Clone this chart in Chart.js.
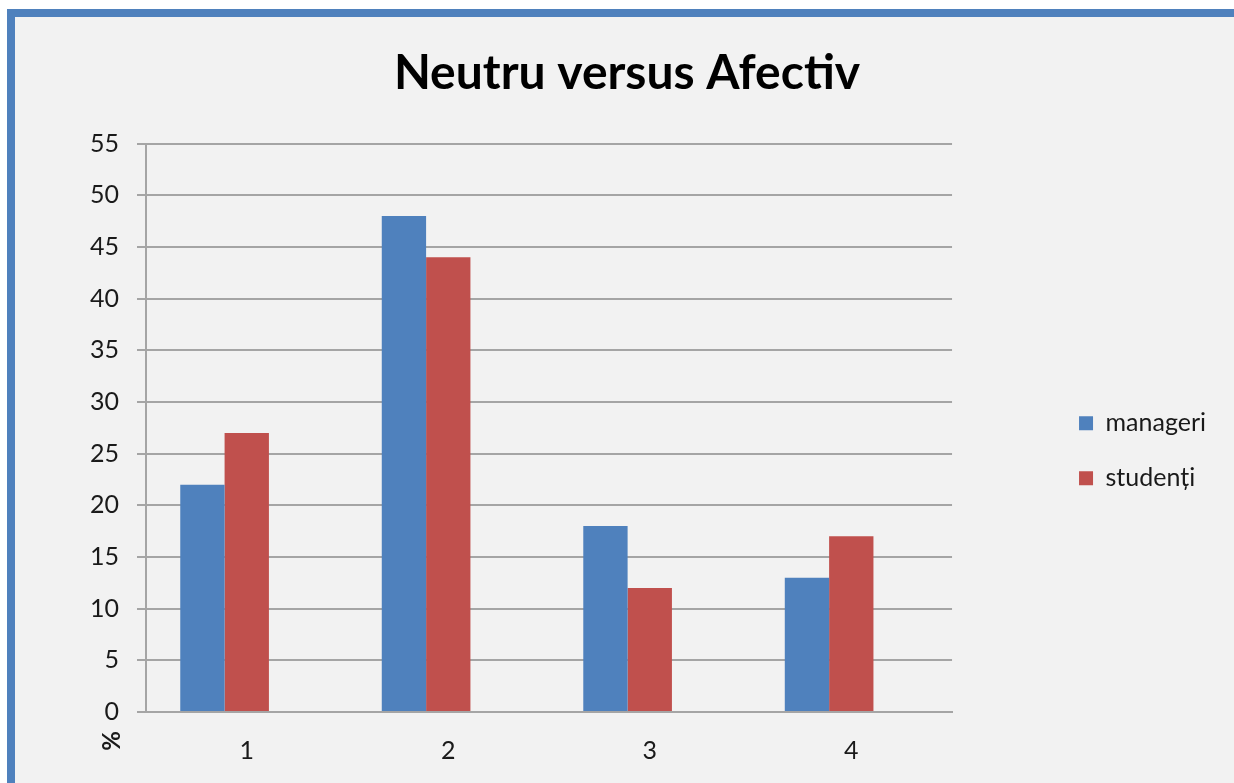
<!DOCTYPE html>
<html>
<head>
<meta charset="utf-8">
<script src="https://cdn.jsdelivr.net/npm/chart.js@4"></script>
<style>
    html, body { margin: 0; padding: 0; background: #ffffff; }
    #frame {
        position: absolute;
        left: 7px; top: 9px;
        width: 1219px; height: 766px;
        border-left: 8px solid #4f81bd;
        border-top: 8px solid #4f81bd;
        background: #f2f2f2;
    }
</style>
</head>
<body>
<div id="frame"><canvas id="chart" width="1219" height="766"></canvas></div>
<script>
const categories = ["1", "2", "3", "4"];
const manageri = [22, 48, 18, 13];
const studenti = [27, 44, 12, 17];
const emptySeries = [null, null, null, null]; // blank third series in the original sheet
const yMin = 0, yMax = 55, yStep = 5;

const textColor = '#1a1a1a';
const gridColor = '#a5a5a5';

// "%" axis label sits rotated under the zero tick
const percentLabel = {
    id: 'percentLabel',
    afterDraw(chart) {
        const y = chart.scales.y;
        const ctx = chart.ctx;
        ctx.save();
        ctx.translate(y.right - 34, y.bottom + 29);
        ctx.rotate(-Math.PI / 2);
        ctx.font = 'bold 24px Lato';
        ctx.fillStyle = textColor;
        ctx.textAlign = 'center';
        ctx.textBaseline = 'middle';
        ctx.fillText('%', 0, 0);
        ctx.restore();
    }
};

new Chart(document.getElementById('chart'), {
    type: 'bar',
    data: {
        labels: categories,
        datasets: [
            { label: 'manageri', data: manageri, backgroundColor: '#4f81bd' },
            { label: 'studenți', data: studenti, backgroundColor: '#c0504d' },
            { label: '', data: emptySeries, backgroundColor: 'transparent' }
        ]
    },
    options: {
        responsive: false,
        animation: false,
        layout: { padding: { left: 23, right: 18, top: 0, bottom: 0 } },
        datasets: { bar: { barPercentage: 1, categoryPercentage: 0.66 } },
        plugins: {
            title: {
                display: true,
                text: 'Neutru versus Afectiv',
                color: '#000',
                font: { family: 'Lato', weight: 'bold', size: 48 },
                padding: { top: 28, bottom: 41 }
            },
            legend: {
                position: 'right',
                fullSize: false,
                title: { display: true, text: ' ', font: { size: 10 }, padding: { top: 34, bottom: 0 } },
                labels: {
                    filter: item => item.text !== '',
                    color: textColor,
                    font: { family: 'Lato', size: 25 },
                    boxWidth: 14,
                    boxHeight: 14,
                    padding: 30
                }
            },
            tooltip: { enabled: false }
        },
        scales: {
            x: {
                grid: { display: false, drawTicks: false, tickLength: 0 },
                border: { display: true, color: gridColor, width: 2 },
                ticks: { color: textColor, font: { family: 'Lato', size: 25 }, padding: 24 },
                afterFit: s => { s.height = 71; }
            },
            y: {
                min: yMin, max: yMax,
                ticks: { stepSize: yStep, color: textColor, font: { family: 'Lato', size: 25 }, padding: 18 },
                grid: { color: gridColor, lineWidth: 2, tickLength: 9 },
                border: { display: true, color: gridColor, width: 2 },
                afterFit: s => { s.width = 108; }
            },
            y2: {
                position: 'right',
                display: true,
                grid: { display: false },
                border: { display: false },
                ticks: { display: false },
                afterFit: s => { s.width = 97; }
            }
        }
    },
    plugins: [percentLabel]
});
</script>
</body>
</html>
